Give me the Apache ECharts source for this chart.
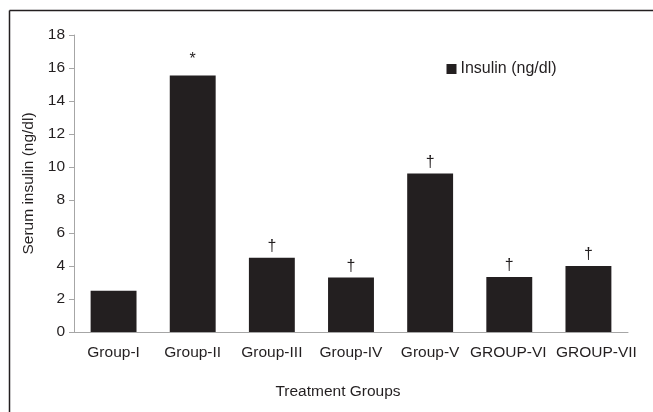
<!DOCTYPE html>
<html><head><meta charset="utf-8">
<script src="https://cdn.jsdelivr.net/npm/echarts@6/dist/echarts.min.js"></script>
<style>html,body{margin:0;padding:0;background:#fff}#c{width:653px;height:412px}</style>
</head><body><div id="c"></div>
<script>
const categories = ['Group-I','Group-II','Group-III','Group-IV','Group-V','GROUP-VI','GROUP-VII'];
const insulin = [2.5, 15.55, 4.5, 3.3, 9.6, 3.33, 4.0];
const marks = ['', '*', '\u2020', '\u2020', '\u2020', '\u2020', '\u2020'];
const yTicks = {min: 0, max: 18, interval: 2};
const txt = '#231f20';
const font = 'Liberation Sans, Arial, sans-serif';
const fs = 15.5;
const barData = insulin.map((v, i) => ({
  value: v,
  label: marks[i] === '*' ? {distance: 8} : {}
}));
const catData = categories.map((c, i) => i === categories.length - 1
  ? {value: c, textStyle: {padding: [0, 0, 0, 16]}}
  : (i === categories.length - 2 ? {value: c, textStyle: {padding: [0, 2, 0, 0]}} : c));
const chart = echarts.init(document.getElementById('c'), null, {renderer: 'canvas'});
chart.setOption({
  animation: false,
  backgroundColor: '#fff',
  textStyle: {fontFamily: font, color: txt},
  grid: {left: 74, right: 25, top: 35, bottom: 80},
  legend: {
    left: 446.5, top: 61, padding: 0, itemWidth: 10, itemHeight: 10, itemGap: 5,
    icon: 'rect',
    textStyle: {fontSize: 16, color: txt, fontFamily: font, padding: [0,0,0,-1]},
    data: ['Insulin (ng/dl)']
  },
  xAxis: {
    type: 'category', data: catData,
    axisLine: {lineStyle: {color: '#a6a6a6', width: 1}},
    axisTick: {show: false},
    axisLabel: {interval: 0, fontSize: fs, color: txt, margin: 13, fontFamily: font, hideOverlap: false},
    name: 'Treatment Groups', nameLocation: 'middle', nameGap: 52,
    nameTextStyle: {fontSize: fs, color: txt, fontFamily: font, padding: [0, 26, 0, 0]}
  },
  yAxis: {
    type: 'value', min: yTicks.min, max: yTicks.max, interval: yTicks.interval,
    axisLine: {show: true, lineStyle: {color: '#a6a6a6', width: 1}},
    axisTick: {show: true, length: 5, lineStyle: {color: '#a6a6a6'}},
    splitLine: {show: false},
    axisLabel: {fontSize: fs, color: txt, margin: 9, fontFamily: font},
    name: 'Serum insulin (ng/dl)', nameLocation: 'middle', nameGap: 34,
    nameTextStyle: {fontSize: fs, color: txt, fontFamily: font}
  },
  series: [{
    name: 'Insulin (ng/dl)', type: 'bar', data: barData,
    barWidth: '58%',
    itemStyle: {color: txt},
    label: {
      show: true, position: 'top', distance: 3, fontSize: 16, color: txt, fontFamily: font,
      formatter: p => marks[p.dataIndex]
    }
  }],
  graphic: [
    {type: 'line', shape: {x1: 9.5, y1: 10.5, x2: 653, y2: 10.5}, style: {stroke: '#231f20', lineWidth: 1.5}},
    {type: 'line', shape: {x1: 9.5, y1: 10.5, x2: 9.5, y2: 412}, style: {stroke: '#231f20', lineWidth: 1.5}}
  ]
});
</script></body></html>
